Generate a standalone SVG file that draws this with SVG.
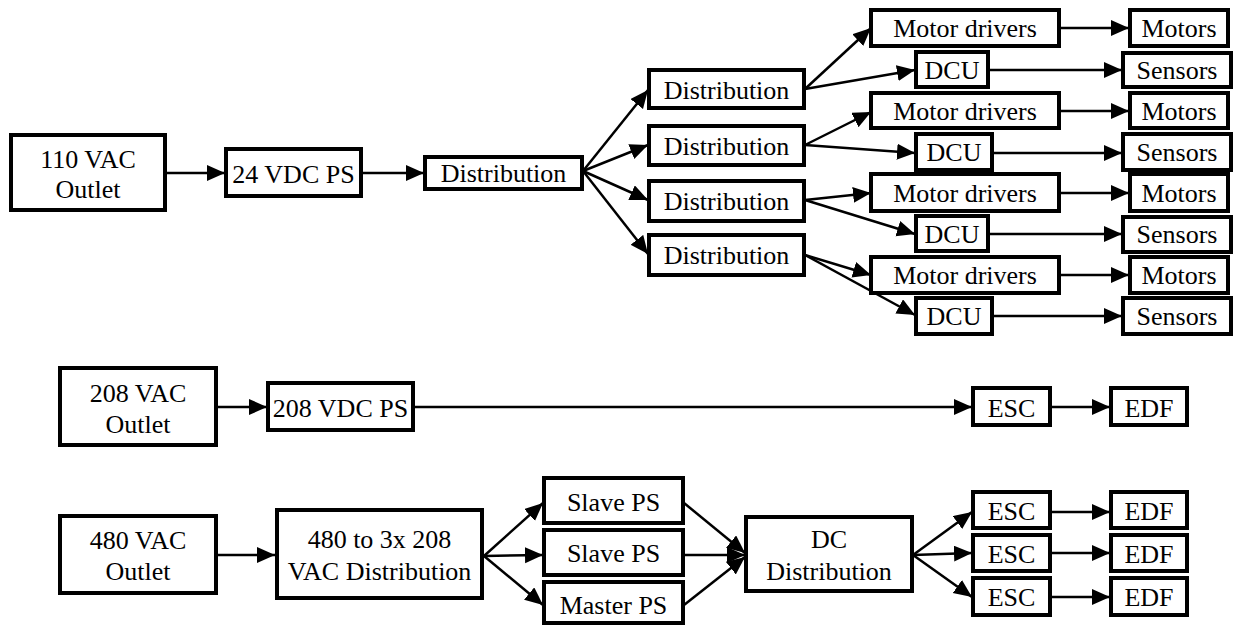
<svg xmlns="http://www.w3.org/2000/svg" width="1236" height="627" viewBox="0 0 1236 627" font-family="'Liberation Serif', 'Times New Roman', serif">
<style>
.b{fill:#fff;stroke:#000;stroke-width:4}
text{font-family:'Liberation Serif','Times New Roman',serif;font-size:26px;fill:#000;text-anchor:middle}
.c{fill:none;stroke:#000;stroke-width:2.5;marker-end:url(#ah)}
</style>
<defs>
<marker id="ah" markerUnits="userSpaceOnUse" markerWidth="20" markerHeight="18" refX="18" refY="8" orient="auto">
<path d="M0,0 L18,8 L0,16 Z" fill="#000"/>
</marker>
</defs>
<rect width="1236" height="627" fill="#fff"/>
<g id="connectors">
<line class="c" x1="167" y1="173" x2="225" y2="173"/>
<line class="c" x1="363" y1="173" x2="424" y2="173"/>
<line class="c" x1="583" y1="171" x2="648" y2="90"/>
<line class="c" x1="583" y1="171" x2="648" y2="145"/>
<line class="c" x1="583" y1="171" x2="648" y2="200"/>
<line class="c" x1="583" y1="171" x2="648" y2="254"/>
<line class="c" x1="805" y1="89" x2="871" y2="28"/>
<line class="c" x1="805" y1="89" x2="915" y2="70"/>
<line class="c" x1="805" y1="145" x2="871" y2="112"/>
<line class="c" x1="805" y1="145" x2="915" y2="153"/>
<line class="c" x1="805" y1="200" x2="871" y2="193"/>
<line class="c" x1="805" y1="200" x2="915" y2="234"/>
<line class="c" x1="805" y1="255" x2="871" y2="275"/>
<line class="c" x1="805" y1="255" x2="915" y2="315"/>
<line class="c" x1="1060" y1="28" x2="1129" y2="28"/>
<line class="c" x1="1060" y1="111" x2="1129" y2="111"/>
<line class="c" x1="1060" y1="193" x2="1129" y2="193"/>
<line class="c" x1="1060" y1="275" x2="1129" y2="275"/>
<line class="c" x1="990" y1="70" x2="1122" y2="70"/>
<line class="c" x1="994" y1="153" x2="1122" y2="153"/>
<line class="c" x1="990" y1="234" x2="1122" y2="234"/>
<line class="c" x1="994" y1="316" x2="1122" y2="316"/>
<line class="c" x1="217" y1="407" x2="267" y2="407"/>
<line class="c" x1="415" y1="407" x2="972" y2="407"/>
<line class="c" x1="1052" y1="407" x2="1110" y2="407"/>
<line class="c" x1="217" y1="555" x2="275" y2="555"/>
<line class="c" x1="484" y1="556" x2="543" y2="503"/>
<line class="c" x1="484" y1="556" x2="543" y2="555"/>
<line class="c" x1="484" y1="556" x2="543" y2="605"/>
<line class="c" x1="684" y1="503" x2="745" y2="553"/>
<line class="c" x1="684" y1="555" x2="745" y2="555"/>
<line class="c" x1="684" y1="605" x2="745" y2="557"/>
<line class="c" x1="913" y1="555" x2="972" y2="512"/>
<line class="c" x1="913" y1="555" x2="972" y2="553"/>
<line class="c" x1="913" y1="555" x2="972" y2="597"/>
<line class="c" x1="1052" y1="512" x2="1110" y2="512"/>
<line class="c" x1="1052" y1="553" x2="1110" y2="553"/>
<line class="c" x1="1052" y1="597" x2="1110" y2="597"/>
</g>
<g id="n110"><rect class="b" x="11" y="135" width="154" height="75"/><text x="88" y="168">110 VAC</text><text x="88" y="198">Outlet</text></g>
<g id="ps24"><rect class="b" x="226" y="149" width="135" height="47"/><text x="293.5" y="183">24 VDC PS</text></g>
<g id="dist0"><rect class="b" x="425" y="157" width="157" height="32"/><text x="503.5" y="182">Distribution</text></g>
<g id="dist1"><rect class="b" x="649" y="70" width="155" height="38"/><text x="726.5" y="99">Distribution</text></g>
<g id="dist2"><rect class="b" x="649" y="126" width="155" height="39"/><text x="726.5" y="155">Distribution</text></g>
<g id="dist3"><rect class="b" x="649" y="181" width="155" height="40"/><text x="726.5" y="210">Distribution</text></g>
<g id="dist4"><rect class="b" x="649" y="235" width="155" height="40"/><text x="726.5" y="264">Distribution</text></g>
<g id="md1"><rect class="b" x="871" y="10" width="188" height="36"/><text x="965" y="37">Motor drivers</text></g>
<g id="mo1"><rect class="b" x="1130" y="10" width="98" height="36"/><text x="1179" y="37">Motors</text></g>
<g id="dcu1"><rect class="b" x="916" y="52" width="72" height="35"/><text x="952" y="79">DCU</text></g>
<g id="se1"><rect class="b" x="1123" y="53" width="108" height="34"/><text x="1177" y="79">Sensors</text></g>
<g id="md2"><rect class="b" x="871" y="93" width="188" height="35"/><text x="965" y="120">Motor drivers</text></g>
<g id="mo2"><rect class="b" x="1130" y="93" width="98" height="35"/><text x="1179" y="120">Motors</text></g>
<g id="dcu2"><rect class="b" x="916" y="134" width="76" height="36"/><text x="954" y="161">DCU</text></g>
<g id="se2"><rect class="b" x="1123" y="134" width="108" height="36"/><text x="1177" y="161">Sensors</text></g>
<g id="md3"><rect class="b" x="871" y="174" width="188" height="37"/><text x="965" y="202">Motor drivers</text></g>
<g id="mo3"><rect class="b" x="1130" y="174" width="98" height="37"/><text x="1179" y="202">Motors</text></g>
<g id="dcu3"><rect class="b" x="916" y="216" width="72" height="35"/><text x="952" y="243">DCU</text></g>
<g id="se3"><rect class="b" x="1123" y="217" width="108" height="35"/><text x="1177" y="243">Sensors</text></g>
<g id="md4"><rect class="b" x="871" y="257" width="188" height="36"/><text x="965" y="284">Motor drivers</text></g>
<g id="mo4"><rect class="b" x="1130" y="257" width="98" height="36"/><text x="1179" y="284">Motors</text></g>
<g id="dcu4"><rect class="b" x="916" y="298" width="76" height="36"/><text x="954" y="325">DCU</text></g>
<g id="se4"><rect class="b" x="1123" y="298" width="108" height="36"/><text x="1177" y="325">Sensors</text></g>
<g id="o208"><rect class="b" x="60" y="368" width="156" height="77"/><text x="138" y="402">208 VAC</text><text x="138" y="433">Outlet</text></g>
<g id="ps208"><rect class="b" x="268" y="383" width="145" height="47"/><text x="340.5" y="417">208 VDC PS</text></g>
<g id="esc0"><rect class="b" x="973" y="388" width="77" height="37"/><text x="1011.5" y="417">ESC</text></g>
<g id="edf0"><rect class="b" x="1111" y="388" width="76" height="37"/><text x="1149" y="417">EDF</text></g>
<g id="o480"><rect class="b" x="60" y="516" width="156" height="77"/><text x="138" y="549">480 VAC</text><text x="138" y="580">Outlet</text></g>
<g id="ac480"><rect class="b" x="277" y="510" width="205" height="88"/><text x="379.5" y="548">480 to 3x 208</text><text x="379.5" y="580">VAC Distribution</text></g>
<g id="slave1"><rect class="b" x="544" y="478" width="139" height="45"/><text x="613.5" y="511">Slave PS</text></g>
<g id="slave2"><rect class="b" x="544" y="530" width="139" height="45"/><text x="613.5" y="562">Slave PS</text></g>
<g id="master"><rect class="b" x="544" y="582" width="139" height="41"/><text x="613.5" y="614">Master PS</text></g>
<g id="dcdist"><rect class="b" x="746" y="517" width="166" height="74"/><text x="829" y="548">DC</text><text x="829" y="580">Distribution</text></g>
<g id="esc1"><rect class="b" x="973" y="492" width="77" height="36"/><text x="1011.5" y="520">ESC</text></g>
<g id="edf1"><rect class="b" x="1111" y="492" width="76" height="36"/><text x="1149" y="520">EDF</text></g>
<g id="esc2"><rect class="b" x="973" y="535" width="77" height="36"/><text x="1011.5" y="563">ESC</text></g>
<g id="edf2"><rect class="b" x="1111" y="535" width="76" height="36"/><text x="1149" y="563">EDF</text></g>
<g id="esc3"><rect class="b" x="973" y="578" width="77" height="37"/><text x="1011.5" y="606">ESC</text></g>
<g id="edf3"><rect class="b" x="1111" y="578" width="76" height="37"/><text x="1149" y="606">EDF</text></g>
</svg>
